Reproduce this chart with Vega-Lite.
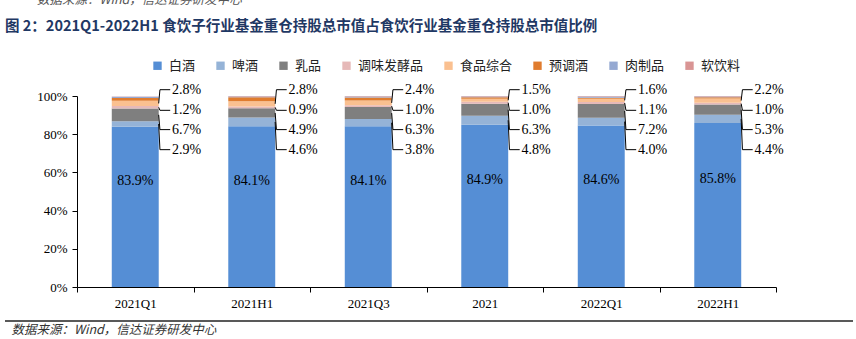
{
  "$schema": "https://vega.github.io/schema/vega-lite/v6.json",
  "width": 848,
  "height": 191,
  "autosize": {"type": "none"},
  "padding": {"left": 5, "top": 96, "right": 3, "bottom": 52},
  "background": "white",
  "title": {
    "text": "图 2：2021Q1-2022H1 食饮子行业基金重仓持股总市值占食饮行业基金重仓持股总市值比例",
    "anchor": "start",
    "frame": "group",
    "font": "Noto Sans CJK SC",
    "fontSize": 14.5,
    "fontWeight": "bold",
    "color": "#1F3864",
    "offset": 0,
    "dy": 41
  },
  "config": {
    "view": {"stroke": null},
    "axisY": {"labelOverlap": false, "tickCount": 6}
  },
  "data": {
    "values": [
      {"cat": "2021Q1", "s": "白酒", "v": 83.9},
      {"cat": "2021Q1", "s": "啤酒", "v": 2.9},
      {"cat": "2021Q1", "s": "乳品", "v": 6.7},
      {"cat": "2021Q1", "s": "调味发酵品", "v": 1.2},
      {"cat": "2021Q1", "s": "食品综合", "v": 2.8},
      {"cat": "2021Q1", "s": "预调酒", "v": 1.4},
      {"cat": "2021Q1", "s": "肉制品", "v": 0.7},
      {"cat": "2021Q1", "s": "软饮料", "v": 0.2},
      {"cat": "2021H1", "s": "白酒", "v": 84.1},
      {"cat": "2021H1", "s": "啤酒", "v": 4.6},
      {"cat": "2021H1", "s": "乳品", "v": 4.9},
      {"cat": "2021H1", "s": "调味发酵品", "v": 0.9},
      {"cat": "2021H1", "s": "食品综合", "v": 2.8},
      {"cat": "2021H1", "s": "预调酒", "v": 2.0},
      {"cat": "2021H1", "s": "肉制品", "v": 0.4},
      {"cat": "2021H1", "s": "软饮料", "v": 0.3},
      {"cat": "2021Q3", "s": "白酒", "v": 84.1},
      {"cat": "2021Q3", "s": "啤酒", "v": 3.8},
      {"cat": "2021Q3", "s": "乳品", "v": 6.3},
      {"cat": "2021Q3", "s": "调味发酵品", "v": 1.0},
      {"cat": "2021Q3", "s": "食品综合", "v": 2.4},
      {"cat": "2021Q3", "s": "预调酒", "v": 1.6},
      {"cat": "2021Q3", "s": "肉制品", "v": 0.5},
      {"cat": "2021Q3", "s": "软饮料", "v": 0.3},
      {"cat": "2021", "s": "白酒", "v": 84.9},
      {"cat": "2021", "s": "啤酒", "v": 4.8},
      {"cat": "2021", "s": "乳品", "v": 6.3},
      {"cat": "2021", "s": "调味发酵品", "v": 1.0},
      {"cat": "2021", "s": "食品综合", "v": 1.5},
      {"cat": "2021", "s": "预调酒", "v": 0.9},
      {"cat": "2021", "s": "肉制品", "v": 0.4},
      {"cat": "2021", "s": "软饮料", "v": 0.2},
      {"cat": "2022Q1", "s": "白酒", "v": 84.6},
      {"cat": "2022Q1", "s": "啤酒", "v": 4.0},
      {"cat": "2022Q1", "s": "乳品", "v": 7.2},
      {"cat": "2022Q1", "s": "调味发酵品", "v": 1.1},
      {"cat": "2022Q1", "s": "食品综合", "v": 1.6},
      {"cat": "2022Q1", "s": "预调酒", "v": 0.6},
      {"cat": "2022Q1", "s": "肉制品", "v": 0.6},
      {"cat": "2022Q1", "s": "软饮料", "v": 0.3},
      {"cat": "2022H1", "s": "白酒", "v": 85.8},
      {"cat": "2022H1", "s": "啤酒", "v": 4.4},
      {"cat": "2022H1", "s": "乳品", "v": 5.3},
      {"cat": "2022H1", "s": "调味发酵品", "v": 1.0},
      {"cat": "2022H1", "s": "食品综合", "v": 2.2},
      {"cat": "2022H1", "s": "预调酒", "v": 0.6},
      {"cat": "2022H1", "s": "肉制品", "v": 0.4},
      {"cat": "2022H1", "s": "软饮料", "v": 0.3}
    ]
  },
  "transform": [
    {"calculate": "indexof(['白酒','啤酒','乳品','调味发酵品','食品综合','预调酒','肉制品','软饮料'], datum.s)", "as": "o"},
    {"calculate": "indexof(['2021Q1','2021H1','2021Q3','2021','2022Q1','2022H1'], datum.cat)", "as": "ci"}
  ],
  "resolve": {"scale": {"x": "independent"}, "axis": {"x": "independent"}},
  "layer": [
    {
      "mark": {"type": "bar", "width": {"band": 0.403}},
      "encoding": {
        "x": {
          "field": "cat", "type": "nominal", "sort": null,
          "title": "数据来源：Wind，信达证券研发中心",
          "scale": {"range": [72, 771], "paddingInner": 0, "paddingOuter": 0},
          "axis": {
            "labelAngle": 0, "labelFont": "Liberation Serif", "labelFontSize": 13, "labelColor": "#000",
            "labelPadding": 5, "tickBand": "extent", "tickSize": 5, "tickColor": "#000", "domainColor": "#000",
            "titleX": 6, "titleY": 42, "titleAlign": "left", "titleBaseline": "middle", "titleAngle": 0,
            "titleFont": "Noto Sans CJK SC", "titleFontSize": 12.5, "titleFontStyle": "italic", "titleFontWeight": "normal", "titleColor": "#333"
          }
        },
        "y": {
          "field": "v", "type": "quantitative", "stack": "zero", "title": null,
          "scale": {"domain": [0, 100], "nice": false},
          "axis": {
            "values": [0, 20, 40, 60, 80, 100], "labelExpr": "datum.value + '%'", "offset": -72,
            "grid": false, "tickSize": 5, "tickColor": "#000", "domainColor": "#000", "labelOverlap": false, "tickCount": 6,
            "labelFont": "Liberation Serif", "labelFontSize": 13, "labelColor": "#000", "labelPadding": 5
          }
        },
        "color": {
          "field": "s", "type": "nominal", "title": null,
          "scale": {
            "domain": ["白酒", "啤酒", "乳品", "调味发酵品", "食品综合", "预调酒", "肉制品", "软饮料"],
            "range": ["#558ED5", "#95B3D7", "#7F7F7F", "#E6B9B8", "#FAC090", "#E07C2E", "#95A9D2", "#D99594"]
          },
          "legend": {
            "orient": "none", "direction": "horizontal", "legendX": 146, "legendY": -37,
            "symbolType": "square", "symbolSize": 70, "symbolStrokeWidth": 0,
            "labelFont": "Noto Sans CJK SC", "labelFontSize": 13, "labelColor": "#222", "labelOffset": 5,
            "columnPadding": 18
          }
        },
        "order": {"field": "o", "type": "quantitative"}
      }
    },
    {
      "transform": [
        {"filter": "datum.s === '白酒'"},
        {"calculate": "datum.ci + 0.5", "as": "qx"},
        {"calculate": "datum.v * 0.66", "as": "ty"},
        {"calculate": "format(datum.v, '.1f') + '%'", "as": "lab"}
      ],
      "mark": {"type": "text", "font": "Liberation Serif", "fontSize": 14, "color": "#000", "baseline": "middle"},
      "encoding": {
        "x": {"field": "qx", "type": "quantitative", "axis": null, "scale": {"domain": [0, 6], "range": [72, 771], "nice": false, "zero": false}},
        "y": {"field": "ty", "type": "quantitative", "title": null, "scale": {"domain": [0, 100], "nice": false}},
        "text": {"field": "lab"}
      }
    },
    {
      "transform": [
        {"stack": "v", "groupby": ["cat"], "sort": [{"field": "o", "order": "ascending"}], "as": ["y0", "y1"]},
        {"filter": "datum.o >= 1 && datum.o <= 4"},
        {"calculate": "(datum.y0 + datum.y1) / 2", "as": "mid"},
        {"calculate": "[71.9, 82.4, 92.5, 103.3][datum.o - 1]", "as": "slot"},
        {"calculate": "datum.cat + '-' + datum.s", "as": "k"},
        {"calculate": "[datum.ci + 0.701, datum.ci + 0.712, datum.ci + 0.80]", "as": "qx"},
        {"calculate": "[datum.mid, datum.slot, datum.slot]", "as": "py"},
        {"flatten": ["qx", "py"]}
      ],
      "mark": {"type": "line", "color": "#000", "strokeWidth": 1, "interpolate": "linear"},
      "encoding": {
        "x": {"field": "qx", "type": "quantitative", "axis": null, "scale": {"domain": [0, 6], "range": [72, 771], "nice": false, "zero": false}},
        "y": {"field": "py", "type": "quantitative", "title": null, "scale": {"domain": [0, 100], "nice": false}},
        "detail": {"field": "k"},
        "order": {"field": "qx", "type": "quantitative"}
      }
    },
    {
      "transform": [
        {"filter": "datum.o >= 1 && datum.o <= 4"},
        {"calculate": "[71.9, 82.4, 92.5, 103.3][datum.o - 1]", "as": "slot"},
        {"calculate": "datum.ci + 0.815", "as": "qx"},
        {"calculate": "format(datum.v, '.1f') + '%'", "as": "lab"}
      ],
      "mark": {"type": "text", "font": "Liberation Serif", "fontSize": 14, "color": "#000", "align": "left", "baseline": "middle"},
      "encoding": {
        "x": {"field": "qx", "type": "quantitative", "axis": null, "scale": {"domain": [0, 6], "range": [72, 771], "nice": false, "zero": false}},
        "y": {"field": "slot", "type": "quantitative", "title": null, "scale": {"domain": [0, 100], "nice": false}},
        "text": {"field": "lab"}
      }
    },
    {
      "data": {"values": [{"yy": -17.8}]},
      "mark": {"type": "rule", "color": "#222", "strokeWidth": 1.5},
      "encoding": {
        "y": {"field": "yy", "type": "quantitative", "title": null, "scale": {"domain": [0, 100], "nice": false}}
      }
    },
    {
      "data": {"values": [{"note": "数据来源：Wind，信达证券研发中心"}]},
      "mark": {"type": "text", "font": "Noto Sans CJK SC", "fontSize": 12.5, "fontStyle": "italic", "color": "#555", "align": "left", "baseline": "middle", "dx": -40},
      "encoding": {
        "x": {"datum": 0, "type": "quantitative", "axis": null, "scale": {"domain": [0, 6], "range": [72, 771], "nice": false, "zero": false}},
        "y": {"datum": 150.3, "type": "quantitative", "title": null, "scale": {"domain": [0, 100], "nice": false}},
        "text": {"field": "note"}
      }
    }
  ]
}
